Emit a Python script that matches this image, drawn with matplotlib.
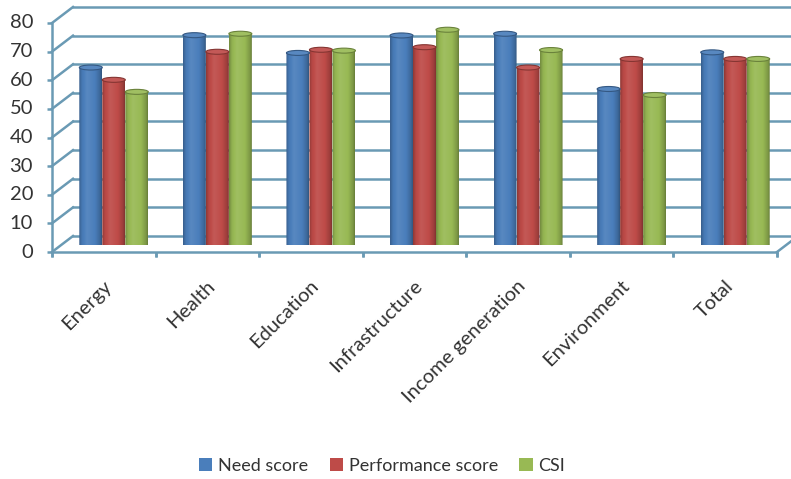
import numpy as np
import matplotlib
matplotlib.use("Agg")
import matplotlib.pyplot as plt
from matplotlib.transforms import ScaledTranslation
from matplotlib.patches import Ellipse, PathPatch
from matplotlib.path import Path
from matplotlib.colors import to_rgb

categories = ["Energy", "Health", "Education", "Infrastructure",
              "Income generation", "Environment", "Total"]
need_score = [62.0, 73.3, 67.1, 73.2, 73.8, 54.5, 67.3]
performance_score = [57.7, 67.5, 68.2, 69.1, 62.0, 65.0, 65.0]
csi = [53.5, 73.8, 67.9, 75.2, 68.1, 52.4, 65.0]
series_names = ["Need score", "Performance score", "CSI"]
series_colors = ["#4A7EBB", "#BE4B48", "#98B954"]
y_ticks = [0, 10, 20, 30, 40, 50, 60, 70, 80]

plt.rcParams['font.family'] = ['Lato', 'DejaVu Sans']
TEXT = "#333333"
GRID = "#6A9AB4"

W, H = 791, 479
fig = plt.figure(figsize=(W / 100, H / 100), dpi=100)
# bar plane: x 0 -> px 62, 7 -> px 787 ; y 0 -> px 245, 80 -> px 16
ax = fig.add_axes([62 / W, (H - 245) / H, 725 / W, 229 / H])
ax.set_xlim(0, len(categories))
ax.set_ylim(0, 80)
ax.axis("off")


def off(dx, dy):
    return ax.transData + ScaledTranslation(dx / 100, -dy / 100, fig.dpi_scale_trans)


front = off(-10, 7)
back = off(11, -9)
n = len(categories)

# back wall gridlines
for v in y_ticks:
    ax.plot([0, n + 0.2], [v, v], color=GRID, lw=1.8, transform=back, clip_on=False, zorder=1)
# left wall diagonals
for v in y_ticks:
    p0 = front.transform((0, v))
    p1 = back.transform((0, v))
    fig.add_artist(plt.Line2D([p0[0] / W, p1[0] / W], [p0[1] / H, p1[1] / H],
                              color=GRID, lw=1.8, transform=fig.transFigure, zorder=1))
# floor front edge & right diagonal
ax.plot([0, n], [0, 0], color=GRID, lw=1.8, transform=front, clip_on=False, zorder=1)
p0 = front.transform((n, 0)); p1 = back.transform((n, 0))
fig.add_artist(plt.Line2D([p0[0] / W, p1[0] / W], [p0[1] / H, p1[1] / H],
                          color=GRID, lw=1.8, transform=fig.transFigure, zorder=1))
# front y axis line
ax.plot([0, 0], [0, 80], color=GRID, lw=1.8, transform=front, clip_on=False, zorder=1)
for v in y_ticks:
    ax.plot([0], [v], marker=[(0, 0), (-1, 0)], ms=7, mew=1.8, color=GRID,
            transform=front, clip_on=False)
    ax.text(0, v, str(v), transform=off(-29, 7), ha="right", va="center",
            fontsize=14.5, color=TEXT)
for i in range(n + 1):
    ax.plot([i, i], [0, 0], marker=[(0, 0), (0, -1)], ms=7, mew=1.8, color=GRID,
            transform=front, clip_on=False)
for i, c in enumerate(categories):
    ax.text(i + 0.5, 0, c, transform=off(-5, 38), rotation=45, rotation_mode="anchor",
            ha="right", va="center", fontsize=14.5, color=TEXT)

# cylinders
bw = 0.222
cap_h = 5 / (229 / 80)
series = [need_score, performance_score, csi]


def shade(base, f):
    b = np.array(to_rgb(base))
    if f >= 1:
        return b + (1 - b) * (f - 1)
    return b * f


prof_x = np.linspace(0, 1, 60)
prof_f = np.interp(prof_x, [0, 0.12, 0.35, 0.7, 0.92, 1.0], [0.75, 0.95, 1.08, 1.0, 0.82, 0.68])
for s, vals in enumerate(series):
    col = series_colors[s]
    grad = np.array([[np.clip(shade(col, f), 0, 1) for f in prof_f]])
    for i, v in enumerate(vals):
        xc = i + 0.5 + (s - 1) * bw
        x0, x1 = xc - bw / 2, xc + bw / 2
        t = np.linspace(np.pi, 2 * np.pi, 30)
        bottom = np.column_stack([xc + bw / 2 * np.cos(t), cap_h / 2 * np.sin(t)])
        verts = np.vstack([[x0, v], bottom, [x1, v], [x0, v]])
        codes = [Path.MOVETO] + [Path.LINETO] * (len(verts) - 2) + [Path.CLOSEPOLY]
        clip = PathPatch(Path(verts, codes), transform=ax.transData, fc="none", ec="none")
        ax.add_patch(clip)
        im = ax.imshow(grad, extent=[x0, x1, -cap_h, v], aspect="auto",
                       interpolation="bilinear", zorder=3 + s * 0.01)
        im.set_clip_path(clip)
        ax.add_patch(Ellipse((xc, v), bw, cap_h, fc=shade(col, 1.08),
                             ec=shade(col, 0.7), lw=0.8, zorder=4))
ax.set_xlim(0, n)
ax.set_ylim(0, 80)

# legend
handles = [plt.Rectangle((0, 0), 1, 1, fc=c, ec="none") for c in series_colors]
fig.legend(handles, series_names, loc="center", bbox_to_anchor=(382 / W, 1 - 466 / H),
           ncol=3, frameon=False, fontsize=13, handlelength=0.75, handleheight=0.75,
           handletextpad=0.3, columnspacing=1.2, labelcolor=TEXT)

fig.savefig("out.png", dpi=100)
